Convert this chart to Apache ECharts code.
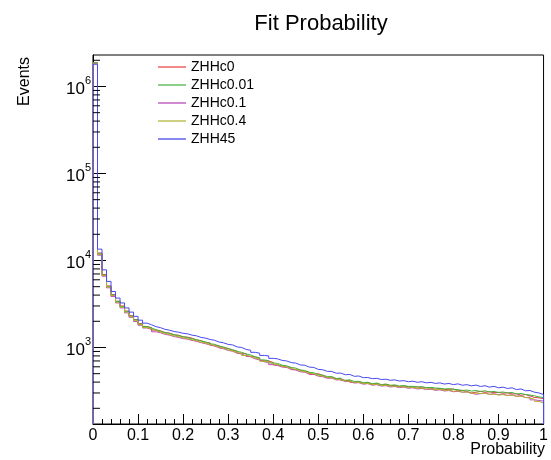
<!DOCTYPE html>
<html><head><meta charset="utf-8">
<script src="https://cdn.jsdelivr.net/npm/echarts@6/dist/echarts.min.js"></script>
<style>html,body{margin:0;padding:0;background:#fff}#c{width:551px;height:460px}</style>
</head><body><div id="c"></div>
<script>
const FONT = "'Liberation Sans', Arial, Helvetica, sans-serif";
const binWidth = 0.01;
const seriesNames = ['ZHHc0', 'ZHHc0.01', 'ZHHc0.1', 'ZHHc0.4', 'ZHH45'];
const seriesColors = ['#e83a3a', '#3cb43c', '#c448c4', '#b0b02a', '#4848f0'];
const legendColors = ['#f28a8a', '#8ccf8c', '#d28ad2', '#cfcf84', '#8888f0'];
const xTickLabels = ['0','0.1','0.2','0.3','0.4','0.5','0.6','0.7','0.8','0.9','1'];
const yDecades = [3, 4, 5, 6];

const zhhc0 = [1850000,12200,6900,5100,4050,3400,3000,2620,2320,2090,
1880,1745,1690,1585,1555,1480,1465,1395,1385,1320,
1315,1280,1215,1200,1140,1130,1065,1050,990,975,
925,910,860,850,790,780,755,705,700,672,
630,612,598,590,556,550,528,522,490,500,
476,452,458,436,438,416,420,398,405,388,
396,378,386,370,378,364,366,356,362,352,
350,354,342,346,338,332,338,328,330,334,
318,322,312,300,306,314,305,310,302,305,
298,302,292,294,282,288,278,266,264,258];
const zhhc001 = [1880000,11900,6800,5000,4000,3380,2950,2600,2300,2080,
1860,1740,1675,1600,1530,1490,1445,1405,1365,1335,
1300,1255,1235,1185,1160,1105,1085,1035,1015,970,
945,900,880,840,820,780,760,720,705,665,
655,625,615,588,580,552,545,518,512,488,
482,462,462,440,445,420,424,406,408,395,
398,384,390,374,380,368,372,360,366,356,
358,350,356,344,348,342,340,334,336,330,
328,320,324,316,320,312,318,308,312,304,
308,300,304,292,296,288,284,278,270,266];
const zhhc01 = [1850000,11500,6600,4850,3850,3250,2850,2500,2220,1990,
1800,1675,1610,1515,1475,1415,1385,1335,1305,1265,
1245,1205,1175,1135,1105,1065,1035,995,965,925,
905,860,840,800,780,740,720,685,670,635,
620,595,590,560,552,525,520,495,492,468,
462,442,444,424,425,405,408,390,394,378,
384,368,374,360,364,352,356,346,350,340,
344,334,338,328,332,322,326,316,320,310,
314,306,308,298,290,294,300,290,294,286,
290,282,285,276,278,266,268,250,246,242];
const zhhc04 = [1850000,11700,6700,4950,3950,3300,2900,2550,2260,2030,
1830,1695,1635,1555,1505,1445,1405,1355,1335,1285,
1265,1225,1195,1145,1125,1075,1055,1005,980,935,
915,875,855,810,795,755,735,695,680,645,
635,605,598,572,562,536,528,505,500,475,
470,450,448,430,428,410,410,396,398,384,
388,374,378,366,368,358,360,350,354,344,
348,338,342,332,336,326,330,320,324,314,
318,306,310,296,300,296,298,288,292,284,
288,280,284,274,276,266,262,254,240,230];
const zhh45 = [1800000,13500,7800,5750,4400,3700,3250,2850,2550,2280,
2060,1905,1825,1735,1690,1615,1580,1525,1500,1455,
1435,1385,1360,1305,1280,1235,1210,1155,1130,1085,
1070,1015,1000,950,930,880,860,810,800,750,
740,710,700,670,662,630,625,595,590,560,
555,532,530,506,508,486,490,466,470,450,
452,438,442,428,432,420,424,412,416,404,
410,398,404,392,398,386,392,380,386,374,
382,368,374,362,370,356,364,350,358,344,
350,338,344,328,334,318,320,306,300,288];
const seriesValues = [zhhc0, zhhc001, zhhc01, zhhc04, zhh45];

const yMin = 132, yMax = 2.3e6;

function stepPoints(vals) {
  const n = vals.length;
  const pts = [[0, yMin]];
  vals.forEach((v, i) => pts.push([+(i * binWidth).toFixed(4), v]));
  pts.push([+(n * binWidth).toFixed(4), vals[n - 1]]);
  pts.push([+(n * binWidth).toFixed(4), yMin]);
  return pts;
}

const minorTickVals = [];
[2, 3, 4, 5, 6].forEach(d => { for (let k = 2; k <= 9; k++) { const v = k * Math.pow(10, d); if (v > yMin && v < yMax) minorTickVals.push([0, v]); } });

const chart = echarts.init(document.getElementById('c'), null, { renderer: 'canvas' });
const series = seriesNames.map((name, si) => ({
  name, type: 'line', step: 'end', symbol: 'none', showSymbol: false,
  data: stepPoints(seriesValues[si]),
  lineStyle: { width: 1, color: seriesColors[si] },
  itemStyle: { color: legendColors[si] },
  animation: false, z: 2 + si
}));
series.push({
  type: 'custom', silent: true, animation: false, z: 10,
  data: minorTickVals,
  renderItem: (params, api) => {
    const p = api.coord([0, api.value(1)]);
    return { type: 'line', shape: { x1: p[0], y1: p[1], x2: p[0] + 7, y2: p[1] }, style: { stroke: '#000', lineWidth: 1 } };
  }
});

chart.setOption({
  backgroundColor: '#fff',
  animation: false,
  title: { text: 'Fit Probability', left: 316, top: 8, textAlign: 'center',
    textStyle: { fontFamily: FONT, fontSize: 22, fontWeight: 'normal', color: '#000' } },
  legend: {
    data: seriesNames, orient: 'vertical', left: 158, top: 58, padding: 0,
    icon: 'rect', itemWidth: 28, itemHeight: 2, itemGap: 0,
    textStyle: { fontFamily: FONT, fontSize: 14, color: '#000', lineHeight: 18 }
  },
  grid: { left: 93, right: 7, top: 55, bottom: 36, show: true, borderColor: '#000', borderWidth: 1, backgroundColor: '#fff', containLabel: false },
  xAxis: {
    type: 'value', min: 0, max: 1, interval: 0.1,
    axisLine: { lineStyle: { color: '#000' } },
    axisTick: { inside: true, length: 10, lineStyle: { color: '#000' } },
    minorTick: { show: true, splitNumber: 5, length: 5, lineStyle: { color: '#000' } },
    splitLine: { show: false },
    axisLabel: { margin: 4, fontFamily: FONT, fontSize: 16, color: '#000',
      formatter: v => xTickLabels[Math.round(v * 10)] }
  },
  yAxis: {
    type: 'log', logBase: 10, min: yMin, max: yMax,
    axisLine: { lineStyle: { color: '#000' } },
    axisTick: { inside: true, length: 13, lineStyle: { color: '#000' } },
    splitLine: { show: false },
    axisLabel: {
      margin: 2, showMinLabel: false, showMaxLabel: false,
      formatter: v => {
        const l = Math.log10(v), e = Math.round(l);
        if (Math.abs(l - e) > 1e-6 || yDecades.indexOf(e) < 0) return '';
        return '{b|10}{s|' + e + '}';
      },
      rich: {
        b: { fontFamily: FONT, fontSize: 17, color: '#000', padding: [6, 0, 0, 0] },
        s: { fontFamily: FONT, fontSize: 11, color: '#000', verticalAlign: 'top' }
      }
    }
  },
  graphic: [
    { type: 'text', x: 25, y: 57, rotation: Math.PI / 2,
      style: { text: 'Events', align: 'right', verticalAlign: 'middle', font: '16px ' + FONT, fill: '#000' } },
    { type: 'text', x: 545, y: 450,
      style: { text: 'Probability', align: 'right', verticalAlign: 'middle', font: '16px ' + FONT, fill: '#000' } }
  ],
  series
});
</script></body></html>
